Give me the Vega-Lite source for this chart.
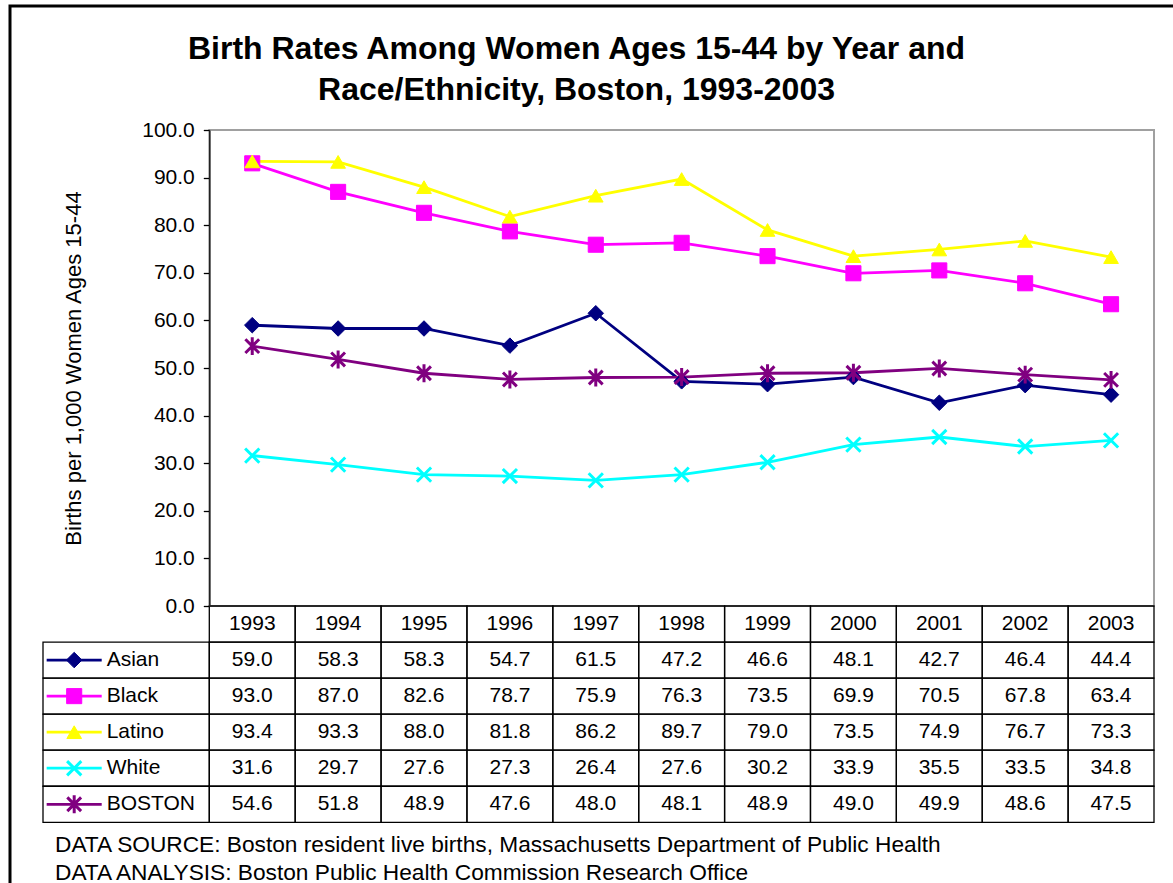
{
  "$schema": "https://vega.github.io/schema/vega-lite/v6.json",
  "width": 1167,
  "height": 881,
  "autosize": {"type": "none"},
  "padding": {"left": 10, "top": 6, "right": -4, "bottom": -4},
  "background": "white",
  "config": {
    "view": {"stroke": "black", "strokeWidth": 3},
    "font": "Liberation Sans",
    "legend": {"disable": true},
    "text": {"font": "Liberation Sans", "color": "black"}
  },
  "title": {
    "text": ["Birth Rates Among Women Ages 15-44 by Year and", "Race/Ethnicity, Boston, 1993-2003"],
    "font": "Liberation Sans",
    "fontSize": 32,
    "fontWeight": "bold",
    "color": "black",
    "lineHeight": 41,
    "anchor": "middle",
    "frame": "group",
    "dx": -17,
    "dy": 105
  },
  "datasets": {
    "rates": [
      {"group": "Asian", "year": 1993, "rate": 59.0},
      {"group": "Asian", "year": 1994, "rate": 58.3},
      {"group": "Asian", "year": 1995, "rate": 58.3},
      {"group": "Asian", "year": 1996, "rate": 54.7},
      {"group": "Asian", "year": 1997, "rate": 61.5},
      {"group": "Asian", "year": 1998, "rate": 47.2},
      {"group": "Asian", "year": 1999, "rate": 46.6},
      {"group": "Asian", "year": 2000, "rate": 48.1},
      {"group": "Asian", "year": 2001, "rate": 42.7},
      {"group": "Asian", "year": 2002, "rate": 46.4},
      {"group": "Asian", "year": 2003, "rate": 44.4},
      {"group": "Black", "year": 1993, "rate": 93.0},
      {"group": "Black", "year": 1994, "rate": 87.0},
      {"group": "Black", "year": 1995, "rate": 82.6},
      {"group": "Black", "year": 1996, "rate": 78.7},
      {"group": "Black", "year": 1997, "rate": 75.9},
      {"group": "Black", "year": 1998, "rate": 76.3},
      {"group": "Black", "year": 1999, "rate": 73.5},
      {"group": "Black", "year": 2000, "rate": 69.9},
      {"group": "Black", "year": 2001, "rate": 70.5},
      {"group": "Black", "year": 2002, "rate": 67.8},
      {"group": "Black", "year": 2003, "rate": 63.4},
      {"group": "Latino", "year": 1993, "rate": 93.4},
      {"group": "Latino", "year": 1994, "rate": 93.3},
      {"group": "Latino", "year": 1995, "rate": 88.0},
      {"group": "Latino", "year": 1996, "rate": 81.8},
      {"group": "Latino", "year": 1997, "rate": 86.2},
      {"group": "Latino", "year": 1998, "rate": 89.7},
      {"group": "Latino", "year": 1999, "rate": 79.0},
      {"group": "Latino", "year": 2000, "rate": 73.5},
      {"group": "Latino", "year": 2001, "rate": 74.9},
      {"group": "Latino", "year": 2002, "rate": 76.7},
      {"group": "Latino", "year": 2003, "rate": 73.3},
      {"group": "White", "year": 1993, "rate": 31.6},
      {"group": "White", "year": 1994, "rate": 29.7},
      {"group": "White", "year": 1995, "rate": 27.6},
      {"group": "White", "year": 1996, "rate": 27.3},
      {"group": "White", "year": 1997, "rate": 26.4},
      {"group": "White", "year": 1998, "rate": 27.6},
      {"group": "White", "year": 1999, "rate": 30.2},
      {"group": "White", "year": 2000, "rate": 33.9},
      {"group": "White", "year": 2001, "rate": 35.5},
      {"group": "White", "year": 2002, "rate": 33.5},
      {"group": "White", "year": 2003, "rate": 34.8},
      {"group": "BOSTON", "year": 1993, "rate": 54.6},
      {"group": "BOSTON", "year": 1994, "rate": 51.8},
      {"group": "BOSTON", "year": 1995, "rate": 48.9},
      {"group": "BOSTON", "year": 1996, "rate": 47.6},
      {"group": "BOSTON", "year": 1997, "rate": 48.0},
      {"group": "BOSTON", "year": 1998, "rate": 48.1},
      {"group": "BOSTON", "year": 1999, "rate": 48.9},
      {"group": "BOSTON", "year": 2000, "rate": 49.0},
      {"group": "BOSTON", "year": 2001, "rate": 49.9},
      {"group": "BOSTON", "year": 2002, "rate": 48.6},
      {"group": "BOSTON", "year": 2003, "rate": 47.5}
    ],
    "notes": [
      {"line": 1, "text": "DATA SOURCE: Boston resident live births, Massachusetts Department of Public Health"},
      {"line": 2, "text": "DATA ANALYSIS: Boston Public Health Commission Research Office"}
    ]
  },
  "resolve": {"scale": {"x": "independent", "y": "independent"}},
  "layer": [
    {
      "layer": [
        {
          "data": {"name": "rates"},
          "mark": {"type": "line", "strokeWidth": 2.8},
          "encoding": {
            "x": {"field": "year", "type": "quantitative", "scale": {"domain": [1992.5, 2003.5], "range": [199.3, 1144], "nice": false, "zero": false}, "axis": null},
            "y": {
              "field": "rate", "type": "quantitative",
              "scale": {"domain": [0, 100], "range": [600, 124], "nice": false, "zero": false},
              "axis": {
                "title": "Births per 1,000 Women Ages 15-44",
                "values": [0, 10, 20, 30, 40, 50, 60, 70, 80, 90, 100],
                "format": ".1f",
                "offset": -199.3,
                "grid": false,
                "tickSize": 6,
                "tickColor": "black",
                "tickWidth": 1.3,
                "domainColor": "#222222",
                "domainWidth": 1.6,
                "labelFont": "Liberation Sans",
                "labelFontSize": 21,
                "labelColor": "black",
                "labelPadding": 9,
                "titleFont": "Liberation Sans",
                "titleFontSize": 22,
                "titleFontWeight": "normal",
                "titleColor": "black",
                "titleX": -136,
                "titleBaseline": "middle",
                "zindex": 1
              }
            },
            "color": {"field": "group", "type": "nominal", "scale": {"domain": ["Asian", "Black", "Latino", "White", "BOSTON"], "range": ["#000080", "#FF00FF", "#FFFF00", "#00FFFF", "#800080"]}, "legend": null}
          }
        },
        {
          "data": {"values": [{}]},
          "mark": {"type": "rect", "filled": false, "stroke": "#a0a0a0", "strokeWidth": 2},
          "encoding": {
            "x": {"datum": 1992.5, "type": "quantitative"},
            "x2": {"datum": 2003.5},
            "y": {"datum": 0, "type": "quantitative"},
            "y2": {"datum": 100}
          }
        },
        {
          "data": {"name": "rates"},
          "transform": [{"filter": "datum.group === 'Asian' || datum.group === 'Black' || datum.group === 'Latino'"}],
          "mark": {"type": "point", "filled": true, "opacity": 1, "strokeWidth": 1},
          "encoding": {
            "x": {"field": "year", "type": "quantitative"},
            "y": {"field": "rate", "type": "quantitative"},
            "shape": {"field": "group", "type": "nominal", "scale": {"domain": ["Asian", "Black", "Latino", "White", "BOSTON"], "range": ["diamond", "square", "triangle-up", "M-1,-1L1,1M-1,1L1,-1", "M-1,-1L1,1M-1,1L1,-1M0,-1.3L0,1.3"]}, "legend": null},
            "size": {"field": "group", "type": "nominal", "scale": {"domain": ["Asian", "Black", "Latino", "White", "BOSTON"], "range": [240, 190, 290, 210, 210]}, "legend": null},
            "fill": {"field": "group", "type": "nominal", "scale": {"domain": ["Asian", "Black", "Latino", "White", "BOSTON"], "range": ["#000080", "#FF00FF", "#FFFF00", "#00FFFF", "#800080"]}, "legend": null},
            "stroke": {"field": "group", "type": "nominal", "scale": {"domain": ["Asian", "Black", "Latino", "White", "BOSTON"], "range": ["#000080", "#FF00FF", "#FFFF00", "#00FFFF", "#800080"]}, "legend": null}
          }
        },
        {
          "data": {"name": "rates"},
          "transform": [{"filter": "datum.group === 'White' || datum.group === 'BOSTON'"}],
          "mark": {"type": "point", "filled": true, "opacity": 1, "strokeWidth": 3},
          "encoding": {
            "x": {"field": "year", "type": "quantitative"},
            "y": {"field": "rate", "type": "quantitative"},
            "shape": {"field": "group", "type": "nominal", "legend": null},
            "size": {"field": "group", "type": "nominal", "legend": null},
            "fill": {"field": "group", "type": "nominal", "legend": null},
            "stroke": {"field": "group", "type": "nominal", "legend": null}
          }
        }
      ]
    },
    {
      "data": {"name": "rates"},
      "layer": [
        {
          "mark": {"type": "rect", "filled": false, "stroke": "black", "strokeWidth": 1.3},
          "encoding": {
            "x": {"field": "year", "type": "ordinal", "scale": {"domain": [1993, 1994, 1995, 1996, 1997, 1998, 1999, 2000, 2001, 2002, 2003], "range": [199.3, 1144], "paddingInner": 0, "paddingOuter": 0}, "axis": null},
            "y": {"field": "group", "type": "nominal", "scale": {"domain": ["header", "Asian", "Black", "Latino", "White", "BOSTON"], "range": [600, 816.3], "paddingInner": 0, "paddingOuter": 0}, "axis": null}
          }
        },
        {
          "mark": {"type": "text", "fontSize": 21, "baseline": "middle", "align": "center"},
          "encoding": {
            "x": {"field": "year", "type": "ordinal", "axis": null},
            "y": {"field": "group", "type": "nominal", "axis": null},
            "text": {"field": "rate", "type": "quantitative", "format": ".1f"}
          }
        },
        {
          "transform": [{"filter": "datum.group === 'Asian'"}],
          "mark": {"type": "rect", "filled": false, "stroke": "black", "strokeWidth": 1.3},
          "encoding": {
            "x": {"field": "year", "type": "ordinal", "axis": null},
            "y": {"datum": "header", "type": "nominal", "axis": null}
          }
        },
        {
          "transform": [{"filter": "datum.group === 'Asian'"}],
          "mark": {"type": "text", "fontSize": 21, "baseline": "middle", "align": "center"},
          "encoding": {
            "x": {"field": "year", "type": "ordinal", "axis": null},
            "y": {"datum": "header", "type": "nominal", "axis": null},
            "text": {"field": "year", "type": "ordinal"}
          }
        }
      ]
    },
    {
      "data": {"name": "rates"},
      "transform": [{"filter": "datum.year === 1993"}],
      "layer": [
        {
          "mark": {"type": "rect", "filled": false, "stroke": "black", "strokeWidth": 1.3},
          "encoding": {
            "x": {"datum": 0, "type": "quantitative", "scale": {"domain": [0, 1], "range": [33, 199.3], "nice": false, "zero": false}, "axis": null},
            "x2": {"datum": 1},
            "y": {"field": "group", "type": "nominal", "scale": {"domain": ["header", "Asian", "Black", "Latino", "White", "BOSTON"], "range": [600, 816.3], "paddingInner": 0, "paddingOuter": 0}, "axis": null}
          }
        },
        {
          "mark": {"type": "rule", "strokeWidth": 2.8},
          "encoding": {
            "x": {"datum": 0.022, "type": "quantitative", "axis": null},
            "x2": {"datum": 0.353},
            "y": {"field": "group", "type": "nominal", "axis": null},
            "color": {"field": "group", "type": "nominal", "scale": {"domain": ["Asian", "Black", "Latino", "White", "BOSTON"], "range": ["#000080", "#FF00FF", "#FFFF00", "#00FFFF", "#800080"]}, "legend": null}
          }
        },
        {
          "transform": [{"filter": "datum.group === 'Asian' || datum.group === 'Black' || datum.group === 'Latino'"}],
          "mark": {"type": "point", "filled": true, "opacity": 1, "strokeWidth": 1},
          "encoding": {
            "x": {"datum": 0.1876, "type": "quantitative", "axis": null},
            "y": {"field": "group", "type": "nominal", "axis": null},
            "shape": {"field": "group", "type": "nominal", "scale": {"domain": ["Asian", "Black", "Latino", "White", "BOSTON"], "range": ["diamond", "square", "triangle-up", "M-1,-1L1,1M-1,1L1,-1", "M-1,-1L1,1M-1,1L1,-1M0,-1.3L0,1.3"]}, "legend": null},
            "size": {"field": "group", "type": "nominal", "scale": {"domain": ["Asian", "Black", "Latino", "White", "BOSTON"], "range": [240, 190, 290, 210, 210]}, "legend": null},
            "fill": {"field": "group", "type": "nominal", "scale": {"domain": ["Asian", "Black", "Latino", "White", "BOSTON"], "range": ["#000080", "#FF00FF", "#FFFF00", "#00FFFF", "#800080"]}, "legend": null},
            "stroke": {"field": "group", "type": "nominal", "scale": {"domain": ["Asian", "Black", "Latino", "White", "BOSTON"], "range": ["#000080", "#FF00FF", "#FFFF00", "#00FFFF", "#800080"]}, "legend": null}
          }
        },
        {
          "transform": [{"filter": "datum.group === 'White' || datum.group === 'BOSTON'"}],
          "mark": {"type": "point", "filled": true, "opacity": 1, "strokeWidth": 3},
          "encoding": {
            "x": {"datum": 0.1876, "type": "quantitative", "axis": null},
            "y": {"field": "group", "type": "nominal", "axis": null},
            "shape": {"field": "group", "type": "nominal", "legend": null},
            "size": {"field": "group", "type": "nominal", "legend": null},
            "fill": {"field": "group", "type": "nominal", "legend": null},
            "stroke": {"field": "group", "type": "nominal", "legend": null}
          }
        },
        {
          "mark": {"type": "text", "fontSize": 21, "baseline": "middle", "align": "left"},
          "encoding": {
            "x": {"datum": 0.383, "type": "quantitative", "axis": null},
            "y": {"field": "group", "type": "nominal", "axis": null},
            "text": {"field": "group", "type": "nominal"}
          }
        }
      ]
    },
    {
      "data": {"name": "notes"},
      "mark": {"type": "text", "fontSize": 22.7, "baseline": "middle", "align": "left"},
      "encoding": {
        "x": {"datum": 0, "type": "quantitative", "scale": {"domain": [0, 1], "range": [45, 1000], "nice": false, "zero": false}, "axis": null},
        "y": {"field": "line", "type": "ordinal", "scale": {"range": [825, 881], "paddingInner": 0, "paddingOuter": 0}, "axis": null},
        "text": {"field": "text", "type": "nominal"}
      }
    }
  ]
}
